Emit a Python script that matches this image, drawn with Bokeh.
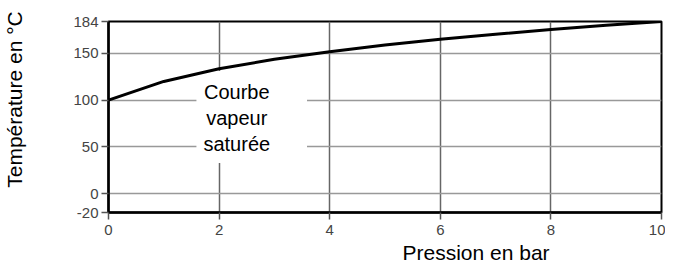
from bokeh.plotting import figure
from bokeh.models import Range1d, FixedTicker, Label, ColumnDataSource, Title
from bokeh.embed import file_html
from bokeh.resources import INLINE

# Data: saturated steam temperature vs gauge pressure
pressure_bar = [0, 1, 2, 3, 4, 5, 6, 7, 8, 9, 10]
temperature_c = [100, 120, 133.5, 143.6, 151.8, 158.8, 165, 170.4, 175.4, 179.9, 184]
x_ticks = [0, 2, 4, 6, 8, 10]
y_ticks = [-20, 0, 50, 100, 150, 184]
x_label = "Pression en bar"
y_label = "Température en °C"
curve_label = "Courbe\nvapeur\nsaturée"

FONT = "Liberation Sans"

p = figure(width=665, height=264, output_backend="svg", toolbar_location=None,
           x_range=Range1d(0, 10), y_range=Range1d(-20, 184),
           min_border_left=107, min_border_right=4, min_border_top=21, min_border_bottom=51)
p.background_fill_color = "white"
p.border_fill_color = "white"
p.outline_line_color = "black"
p.outline_line_width = 2

# Grid
p.xgrid.ticker = FixedTicker(ticks=[2, 4, 6, 8])
p.ygrid.ticker = FixedTicker(ticks=[0, 50, 100, 150])
p.xgrid.grid_line_color = "#666666"
p.xgrid.grid_line_width = 1.5
p.ygrid.grid_line_color = "#999999"
p.ygrid.grid_line_width = 1.5

# Axes
for ax in (p.xaxis[0], p.yaxis[0]):
    ax.axis_line_color = "black"
    ax.axis_line_width = 2.5
    ax.major_tick_line_color = "#555555"
    ax.major_tick_line_width = 1.5
    ax.major_tick_in = 0
    ax.major_tick_out = 7
    ax.minor_tick_line_color = None
    ax.major_label_text_font = FONT
    ax.major_label_text_font_size = "15px"
    ax.major_label_text_color = "#444444"
p.xaxis.ticker = FixedTicker(ticks=x_ticks)
p.yaxis.ticker = FixedTicker(ticks=y_ticks)
p.yaxis.major_label_overrides = {t: str(t) for t in y_ticks}
p.xaxis.major_label_standoff = 5
p.yaxis.major_label_standoff = 3

# Y axis label (leading no-break spaces shift it up, as in the reference)
p.yaxis.axis_label = "\u00a0" * 6 + y_label
p.yaxis.axis_label_standoff = 44
p.yaxis.axis_label_text_font = FONT
p.yaxis.axis_label_text_font_size = "21px"
p.yaxis.axis_label_text_font_style = "normal"
p.yaxis.axis_label_text_color = "black"

# White box behind the curve label
p.quad(left=[1.59], right=[3.59], bottom=[33], top=[131],
       fill_color="white", line_color=None)

# Curve
src = ColumnDataSource(dict(x=pressure_bar, y=temperature_c))
p.line("x", "y", source=src, line_color="black", line_width=3)

# Curve label
p.add_layout(Label(x=2.32, y=81, text=curve_label, text_align="center",
                   text_baseline="middle", text_font=FONT, text_font_size="20px",
                   text_color="black", text_line_height=1.17))

# X axis label as a side title
p.add_layout(Title(text=x_label, align="left", offset=294, standoff=2,
                   text_font=FONT, text_font_size="21px", text_font_style="normal",
                   text_color="black"), "below")

open("out.html", "w").write(file_html(p, INLINE))
